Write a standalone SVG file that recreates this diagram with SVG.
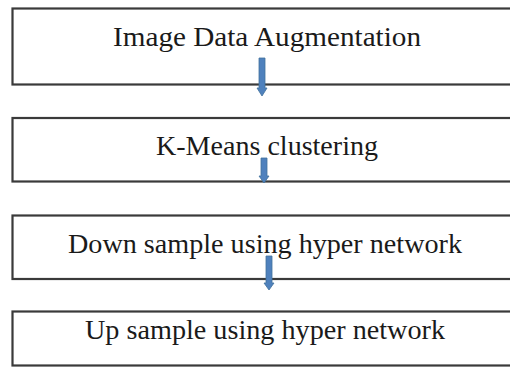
<svg xmlns="http://www.w3.org/2000/svg" width="510" height="367" viewBox="0 0 510 367">
<style>
.box{fill:#fff;stroke:#3a3a3a;stroke-width:2.2}
.lbl{font-family:"Liberation Serif","Times New Roman",serif;font-size:27px;fill:#1a1a1a;text-anchor:middle}
.arr{fill:#4f81bd;stroke:#41719c;stroke-width:0.8}
</style>
<rect width="510" height="367" fill="#fff"/>
<g id="n1"><rect class="box" x="12.5" y="8.5" width="510" height="76"/><text class="lbl" x="267" y="46" textLength="308" lengthAdjust="spacingAndGlyphs">Image Data Augmentation</text></g>
<g id="n2"><rect class="box" x="12.5" y="118" width="510" height="63.5"/><text class="lbl" x="267" y="155" textLength="222" lengthAdjust="spacingAndGlyphs">K-Means clustering</text></g>
<g id="n3"><rect class="box" x="12.5" y="215.5" width="510" height="63.5"/><text class="lbl" x="265" y="253" textLength="394" lengthAdjust="spacingAndGlyphs">Down sample using hyper network</text></g>
<g id="n4"><rect class="box" x="12.5" y="311.5" width="510" height="54"/><text class="lbl" x="265" y="339" textLength="360" lengthAdjust="spacingAndGlyphs">Up sample using hyper network</text></g>
<g id="connectors">
<path class="arr" d="M259,58 H265 V88 H267 L262,96 L257,88 H259 Z"/>
<path class="arr" d="M261,158 H267 V176 H269 L264,183 L259,176 H261 Z"/>
<path class="arr" d="M266,256 H272 V283 H274 L269,290 L264,283 H266 Z"/>
</g>
</svg>
